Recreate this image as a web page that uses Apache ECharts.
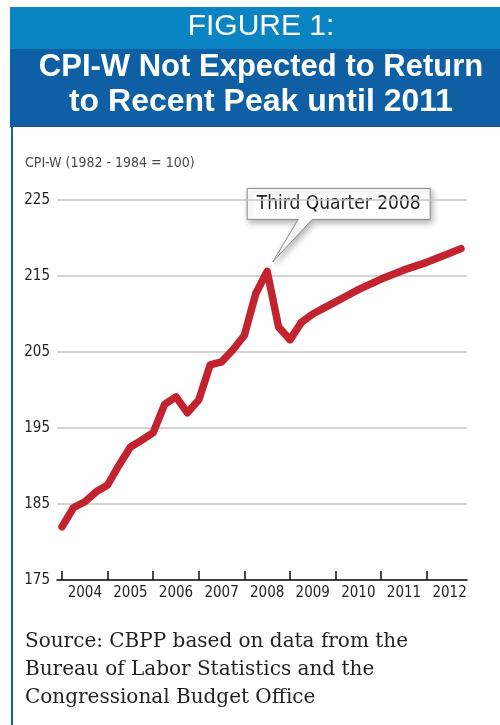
<!DOCTYPE html>
<html>
<head>
<meta charset="utf-8">
<script src="https://cdn.jsdelivr.net/npm/echarts@6/dist/echarts.min.js"></script>
<style>
  html, body { margin: 0; padding: 0; background: #fff; }
  #chart { width: 500px; height: 725px; }
</style>
</head>
<body>
<div id="chart"></div>
<script>
// CPI-W quarterly, 2004 Q1 .. 2012 Q4 (index 0 = 2004 Q1)
var cpi = [
  182.0, 184.5, 185.3, 186.6,   // 2004
  187.5, 190.1, 192.5, 193.4,   // 2005
  194.4, 198.1, 199.1, 197.0,   // 2006
  198.7, 203.3, 203.7, 205.3,   // 2007
  207.2, 212.7, 215.6, 208.3,   // 2008
  206.6, 208.9, 210.0, 210.8,   // 2009
  211.6, 212.4, 213.2, 213.9,   // 2010
  214.6, 215.2, 215.8, 216.3,   // 2011
  216.8, 217.4, 218.0, 218.6    // 2012
];
var years = [2004, 2005, 2006, 2007, 2008, 2009, 2010, 2011, 2012];
var yTicks = [175, 185, 195, 205, 215, 225];
var peakIndex = 18; // third quarter 2008
var peakLabel = 'Third Quarter 2008';

var condensed = "'DejaVu Sans Condensed', 'DejaVu Sans', sans-serif";

var chart = echarts.init(document.getElementById('chart'));

var option = {
  animation: false,
  backgroundColor: '#fff',
  grid: { left: 57, right: 33, top: 200, bottom: 145 },
  xAxis: {
    type: 'value',
    min: -0.44,
    max: 35.53,
    splitLine: { show: false },
    axisLine: { show: true, onZero: false, lineStyle: { color: '#111', width: 1.5 } },
    axisTick: {
      show: true, inside: true, length: 9,
      lineStyle: { color: '#111', width: 1.5 },
      customValues: years.map(function (y, i) { return i * 4; })
    },
    axisLabel: {
      color: '#231f20', fontSize: 15, fontFamily: condensed, margin: 6,
      customValues: years.map(function (y, i) { return i * 4 + 2; }),
      formatter: function (v) { return String(years[Math.round((v - 2) / 4)]); }
    }
  },
  yAxis: {
    type: 'value',
    min: yTicks[0],
    max: yTicks[yTicks.length - 1],
    interval: 10,
    axisLine: { show: false },
    axisTick: { show: false },
    splitLine: { lineStyle: { color: '#c4c4c4', width: 1.5 } },
    axisLabel: { color: '#231f20', fontSize: 15, fontFamily: condensed, margin: 7 }
  },
  series: [{
    type: 'line',
    data: cpi.map(function (v, i) { return [i, v]; }),
    showSymbol: false,
    lineStyle: { color: '#c3232f', width: 7.5, cap: 'round', join: 'round' }
  }],
  graphic: [
    { type: 'rect', shape: { x: 10, y: 7, width: 490, height: 42 }, style: { fill: '#0a84c3' }, silent: true },
    { type: 'rect', shape: { x: 10, y: 49, width: 490, height: 78 }, style: { fill: '#0f5fa5' }, silent: true },
    { type: 'rect', shape: { x: 11, y: 127, width: 2, height: 598 }, style: { fill: '#1262ac' }, silent: true },
    {
      type: 'text', silent: true,
      style: { text: 'FIGURE 1:', x: 261, y: 27, textAlign: 'center', textVerticalAlign: 'middle',
               font: "30px 'Liberation Sans', Arial, sans-serif", fill: '#fff' }
    },
    {
      type: 'text', silent: true,
      style: { text: 'CPI-W Not Expected to Return', x: 261, y: 67, textAlign: 'center', textVerticalAlign: 'middle',
               font: "bold 31px 'Liberation Sans', Arial, sans-serif", fill: '#fff' }
    },
    {
      type: 'text', silent: true,
      style: { text: 'to Recent Peak until 2011', x: 261, y: 102, textAlign: 'center', textVerticalAlign: 'middle',
               font: "bold 32px 'Liberation Sans', Arial, sans-serif", fill: '#fff' }
    },
    {
      type: 'text', silent: true,
      style: { text: 'CPI-W (1982 - 1984 = 100)', x: 25, y: 163, textAlign: 'left', textVerticalAlign: 'middle',
               font: "14px " + condensed, fill: '#4a4a4a' }
    },
    {
      type: 'text', silent: true,
      style: { text: 'Source: CBPP based on data from the\nBureau of Labor Statistics and the\nCongressional Budget Office',
               x: 25, y: 628, textAlign: 'left', textVerticalAlign: 'top', lineHeight: 28,
               font: "20px 'DejaVu Serif', serif", fill: '#231f20' }
    }
  ]
};

chart.setOption(option);

// callout box pointing at the peak, placed through the chart's own scales
var p = chart.convertToPixel({ seriesIndex: 0 }, [peakIndex, cpi[peakIndex]]);
option.graphic.push({
  type: 'group', x: p[0], y: p[1], z: 100, silent: true,
  children: [
    {
      type: 'polygon',
      shape: { points: [[-20, -83], [163, -83], [163, -52], [45, -52], [5.5, -9.5], [31, -52], [-20, -52]] },
      style: {
        fill: '#fff', stroke: '#8c8c8c', lineWidth: 1,
        shadowBlur: 6, shadowColor: 'rgba(0,0,0,0.3)', shadowOffsetX: 2, shadowOffsetY: 3
      }
    },
    {
      type: 'text',
      style: { text: peakLabel, x: 71.5, y: -67.5, textAlign: 'center', textVerticalAlign: 'middle',
               font: "19px " + condensed, fill: '#231f20' }
    }
  ]
});
chart.setOption(option, true);
</script>
</body>
</html>
